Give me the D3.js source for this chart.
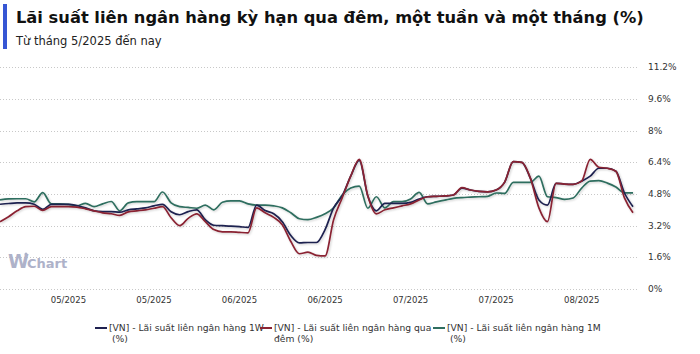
<!DOCTYPE html>
<html>
<head>
<meta charset="utf-8">
<script src="https://cdn.jsdelivr.net/npm/d3@7"></script>
<style>
  body { margin: 0; background: #fff; }
  svg { display: block; font-family: "DejaVu Sans", sans-serif; }
</style>
</head>
<body>
<script>
// Series values (%), one point per business day from early May 2025
let rate1W = [4.28, 4.32, 4.35, 4.35, 4.28, 4.02, 4.28, 4.28, 4.28, 4.22,
              4.10, 3.95, 3.91, 3.91, 3.88, 4.00, 4.05, 4.10, 4.20, 4.28,
              3.90, 3.75, 3.91, 4.00, 3.50, 3.22, 3.20, 3.18, 3.15, 3.11,
              4.24, 3.96, 3.80, 3.40, 2.70, 2.33, 2.35, 2.35, 3.00, 4.10,
              4.70, 5.70, 6.50, 4.70, 3.95, 4.33, 4.33, 4.33, 4.38, 4.55,
              4.66, 4.68, 4.70, 4.75, 5.10, 5.00, 4.93, 4.91, 5.00, 5.40,
              6.43, 6.40, 5.60, 4.50, 4.24, 5.34, 5.30, 5.29, 5.45, 5.70,
              6.10, 6.10, 5.95, 4.85, 4.16];

let rateON = [3.40, 3.65, 3.95, 4.16, 4.18, 3.97, 4.16, 4.16, 4.16, 4.14,
              4.05, 3.95, 3.85, 3.80, 3.72, 3.90, 3.95, 4.00, 4.08, 4.16,
              3.60, 3.20, 3.57, 3.80, 3.40, 3.00, 2.89, 2.89, 2.86, 2.84,
              4.10, 3.85, 3.62, 3.25, 2.40, 1.78, 1.86, 1.70, 1.67, 3.50,
              4.60, 5.70, 6.55, 4.70, 3.80, 4.00, 4.10, 4.20, 4.30, 4.50,
              4.66, 4.68, 4.70, 4.75, 5.12, 5.00, 4.93, 4.91, 5.00, 5.40,
              6.43, 6.40, 5.60, 4.10, 3.40, 5.34, 5.30, 5.29, 5.45, 6.55,
              6.15, 6.10, 5.95, 4.60, 3.85];

let rate1M = [4.50, 4.55, 4.56, 4.56, 4.40, 4.87, 4.30, 4.30, 4.28, 4.20,
              4.33, 4.16, 4.30, 4.42, 3.95, 4.35, 4.41, 4.41, 4.41, 4.90,
              4.35, 4.16, 4.12, 4.08, 4.24, 4.00, 4.38, 4.45, 4.45, 4.30,
              4.24, 4.24, 4.20, 4.10, 3.85, 3.55, 3.50, 3.62, 3.80, 4.10,
              4.75, 5.10, 5.20, 4.08, 4.66, 4.10, 4.41, 4.41, 4.55, 4.88,
              4.30, 4.40, 4.49, 4.58, 4.62, 4.64, 4.66, 4.68, 4.85, 4.83,
              5.39, 5.39, 5.39, 5.70, 4.66, 4.62, 4.53, 4.60, 5.10, 5.45,
              5.47, 5.35, 5.15, 4.86, 4.86];

let seriesNames = [
  ["[VN] - Lãi suất liên ngân hàng 1W", "(%)"],
  ["[VN] - Lãi suất liên ngân hàng qua", "đêm (%)"],
  ["[VN] - Lãi suất liên ngân hàng 1M", "(%)"]
];
let seriesColors = ["#1f2150", "#8a2433", "#2f6e5f"];

// x tick labels sit every 10 business days
let tickIndex = [8, 18, 28, 38, 48, 58, 68];
let tickLabels = ["05/2025", "05/2025", "06/2025", "06/2025", "07/2025", "07/2025", "08/2025"];
let yTicks = [0, 1.6, 3.2, 4.8, 6.4, 8, 9.6, 11.2];

let width = 700, height = 354;

let svg = d3.select("body").append("svg")
    .attr("width", width)
    .attr("height", height);

// shadow under the lines
let defs = svg.append("defs");
defs.append("filter")
    .attr("id", "shadow")
    .attr("x", "-5%").attr("y", "-20%")
    .attr("width", "110%").attr("height", "140%")
    .append("feDropShadow")
    .attr("dx", 1).attr("dy", 1)
    .attr("stdDeviation", 1)
    .attr("flood-color", "#000")
    .attr("flood-opacity", 0.2);

// title block
svg.append("rect")
    .attr("x", 3).attr("y", 4)
    .attr("width", 4).attr("height", 45)
    .attr("fill", "#3656d4");

svg.append("text")
    .attr("x", 16).attr("y", 23)
    .attr("font-size", 16.3)
    .attr("font-weight", "bold")
    .attr("fill", "#111")
    .text("Lãi suất liên ngân hàng kỳ hạn qua đêm, một tuần và một tháng (%)");

svg.append("text")
    .attr("x", 16).attr("y", 45)
    .attr("font-size", 11.5)
    .attr("fill", "#222")
    .text("Từ tháng 5/2025 đến nay");

// scales
let x = d3.scaleLinear()
    .domain([0, rate1W.length - 1])
    .range([0, 633]);

let y = d3.scaleLinear()
    .domain([0, 11.2])
    .range([289, 67.3]);

// grid lines
svg.append("g")
    .selectAll("line")
    .data(yTicks)
    .enter().append("line")
    .attr("x1", 0).attr("x2", 638)
    .attr("y1", d => Math.round(y(d)) + 0.5)
    .attr("y2", d => Math.round(y(d)) + 0.5)
    .attr("stroke", "#c8c8c8")
    .attr("stroke-dasharray", "1,2");

// y labels on the right
svg.append("g")
    .selectAll("text")
    .data(yTicks)
    .enter().append("text")
    .attr("x", 648)
    .attr("y", d => y(d))
    .attr("dy", "0.35em")
    .attr("font-size", 9)
    .attr("fill", "#333")
    .text(d => d + "%");

// x labels
svg.append("g")
    .selectAll("text")
    .data(tickIndex)
    .enter().append("text")
    .attr("x", d => x(d))
    .attr("y", 300)
    .attr("dy", "0.35em")
    .attr("text-anchor", "middle")
    .attr("font-size", 8.5)
    .attr("fill", "#333")
    .text((d, i) => tickLabels[i]);

// watermark
let wm = svg.append("text")
    .attr("x", 8).attr("y", 268)
    .attr("fill", "#aeb2c9")
    .attr("font-weight", "bold");
wm.append("tspan").attr("font-size", 19).text("W");
wm.append("tspan").attr("font-size", 13).attr("dx", -2).text("Chart");
svg.append("circle")
    .attr("cx", 26).attr("cy", 254).attr("r", 1.5)
    .attr("fill", "#aeb2c9");

// lines
let line = d3.line()
    .x((d, i) => x(i))
    .y(d => y(d))
    .curve(d3.curveMonotoneX);

let allSeries = [rate1W, rateON, rate1M];

svg.append("g")
    .attr("filter", "url(#shadow)")
    .selectAll("path")
    .data([rate1M, rate1W, rateON])
    .enter().append("path")
    .attr("d", line)
    .attr("fill", "none")
    .attr("stroke", d => seriesColors[allSeries.indexOf(d)])
    .attr("stroke-width", 1.7)
    .attr("stroke-linejoin", "round");

// legend
let legendX = [95, 260, 433];
let legend = svg.append("g")
    .selectAll("g")
    .data(seriesNames)
    .enter().append("g")
    .attr("transform", (d, i) => "translate(" + legendX[i] + ",328)");

legend.append("line")
    .attr("x1", 0).attr("x2", 12)
    .attr("y1", 0).attr("y2", 0)
    .attr("stroke", (d, i) => seriesColors[i])
    .attr("stroke-width", 2);

legend.append("text")
    .attr("x", 14)
    .attr("dy", "0.35em")
    .attr("font-size", 9.2)
    .attr("fill", "#333")
    .text(d => d[0]);

legend.append("text")
    .attr("x", (d, i) => i === 1 ? 14 : 17)
    .attr("y", 11)
    .attr("dy", "0.35em")
    .attr("font-size", 9.2)
    .attr("fill", "#333")
    .text(d => d[1]);
</script>
</body>
</html>
